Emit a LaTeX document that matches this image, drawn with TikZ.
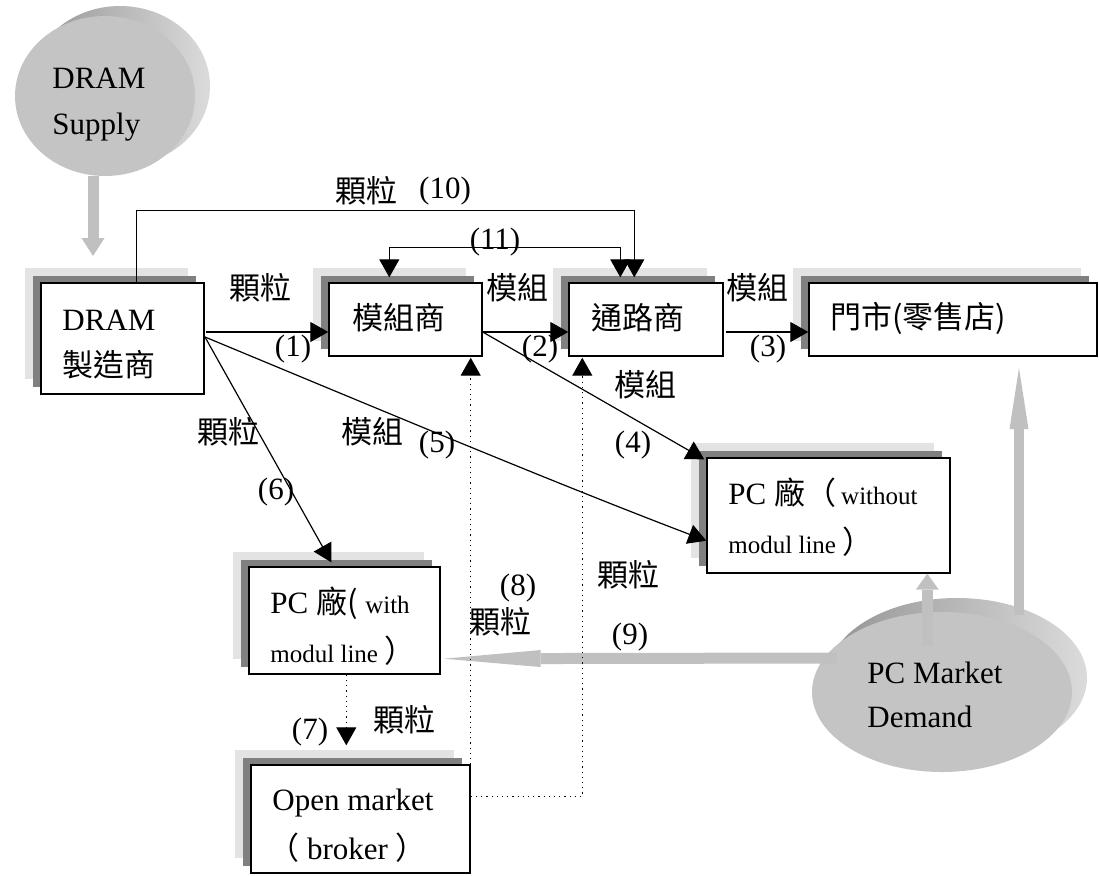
\documentclass[tikz,border=0pt]{standalone}
\usepackage{fontspec}
\setmainfont{Liberation Serif}
\newfontfamily\cjk{Noto Sans CJK TC}
\usetikzlibrary{arrows.meta,fit,calc,shapes.geometric}
\definecolor{shlight}{HTML}{E3E3E3}
\definecolor{shdark}{HTML}{808080}
\definecolor{garr}{HTML}{C0C0C0}
\definecolor{diskfront}{HTML}{C4C4C4}
\newcommand\fs{\fontsize{15.5}{18}\selectfont}
\newcommand\fsm{\fontsize{12.5}{15}\selectfont}
\newcommand\shadowedbox[5]{%
  \fill[shlight] (#2-16,#3-15) rectangle (#4-16,#5-15);
  \fill[shdark] (#2-8,#3-7) rectangle (#4-8,#5-7);
  \node[boxst, fit={(#2,#3) (#4,#5)}] (#1) {};
}
\tikzset{
  boxst/.style={draw=black, line width=0.7pt, fill=white, inner sep=0pt},
  txt/.style={font=\fs, inner sep=0pt, anchor=west},
  lab/.style={font=\fs, inner sep=0pt},
  barrow/.style={draw=black, line width=0.6pt, -{Triangle[length=9pt,width=10pt]}},
  dotarrow/.style={draw=black, line width=0.6pt, dotted, -{Triangle[length=9pt,width=10pt]}},
  garrow/.style={draw=garr, fill=garr},
  diskfr/.style={ellipse, fill=diskfront, inner sep=0pt},
}
\begin{document}
\begin{tikzpicture}[x=0.5pt,y=-0.5pt]
\useasboundingbox (0,0) rectangle (1099,875);

% ---- DRAM Supply disk ----
\shade[left color=black!42, right color=black!14] (120,86) ellipse [x radius=90, y radius=80];
\node[diskfr, minimum width=90pt, minimum height=80pt] (sup) at (105,96) {};
\node[txt] (supa) at (52,78) {DRAM};
\node[txt] (supb) at (52,127) {Supply};

% ---- PC Market Demand disk ----
\shade[left color=black!42, right color=black!14] (957,678) ellipse [x radius=130, y radius=80];
\node[diskfr, minimum width=130pt, minimum height=80pt] (pcm) at (942,692) {};
\node[txt] (pcma) at (867,673) {PC Market};
\node[txt] (pcmb) at (867,717) {Demand};

% ---- boxes ----
\shadowedbox{dram}{41}{283}{204}{394}
\shadowedbox{mod}{329}{283}{482}{356}
\shadowedbox{chan}{569}{283}{723}{356}
\shadowedbox{store}{809}{283}{1097}{356}
\shadowedbox{pcwo}{707}{458}{950}{573}
\shadowedbox{pcw}{249}{567}{440}{674}
\shadowedbox{open}{251}{765}{470}{873}

\node[txt] (dramt1) at (62,320) {DRAM};
\node[txt] (dramt2) at (62,365) {\cjk 製造商};
\node[txt] (modt) at (352,318) {\cjk 模組商};
\node[txt] (chant) at (591,318) {\cjk 通路商};
\node[txt] (storet) at (830,318) {\cjk 門市(零售店)};
\node[txt] (pcwot1) at (728,493) {PC {\cjk 廠（}\,{\fsm without}};
\node[txt] (pcwot2) at (728,542) {{\fsm modul line }{\cjk ）}};
\node[txt] (pcwt1) at (270,603) {PC {\cjk 廠(}\ {\fsm with}};
\node[txt] (pcwt2) at (270,651) {{\fsm modul line }{\cjk ）}};
\node[txt] (opent1) at (272,803) {Open market};
\node[txt] (opent2) at (268,848) {{\cjk （}\ broker\ {\cjk ）}};

% ---- gray arrows ----
\coordinate (tsup) at (93,256);
\draw[garrow, line width=5.5pt, -{Triangle[length=9pt,width=11.5pt,line width=0pt 0]}] (sup.south -| tsup) -- (tsup);
\coordinate (tstore) at (1019,368);
\draw[garrow, line width=5pt, -{Triangle[length=30.5pt,width=9.5pt,line width=0pt 0]}] (tstore |- 0,615) -- (tstore);
\draw[garrow, line width=5.5pt, -{Triangle[length=8pt,width=11.5pt,line width=0pt 0]}] ($(pcwo.south west)+(221,72)$) -- ($(pcwo.south west)+(221,0)$);
\draw[garrow, line width=5.5pt, -{Triangle[length=48.5pt,width=8.5pt,line width=0pt 0]}] ($(pcm.west)+(25,-34)$) -- ($(pcw.south east)+(3,-16)$);

% ---- black arrows ----
\coordinate (d1) at (206,332);
\coordinate (d5) at (205,337);
\draw[barrow] (d1) -- (d1 -| mod.west);
\draw[barrow] (mod.east |- d1) -- (chan.west |- d1);
\draw[barrow] ($(chan.east |- d1)+(2,0)$) -- (store.west |- d1);
\draw[barrow] (mod.east |- d1) -- ($(pcwo.north west)+(-2,2)$);
\draw[barrow] (d5) .. controls (400,418) and (560,485) .. ($(pcwo.south west)+(0,-33)$);
\draw[barrow] (d5) -- ($(pcw.north west)+(83,-4)$);
\draw[barrow] ($(dram.north west)+(96,0)$) |- ($(chan.north west)+(66,-72)$) -- ($(chan.north west)+(66,-5)$);
\draw[draw=black, line width=0.6pt, {Triangle[length=9pt,width=10pt]}-{Triangle[length=9pt,width=10pt]}]
  ($(mod.north west)+(61,-5)$) |- ($(chan.north west)+(52,-35)$) -- ($(chan.north west)+(52,-5)$);

% ---- dotted arrows ----
\draw[dotarrow] ($(pcw.south west)+(98,0)$) -- ($(open.north west)+(96,-19)$);
\draw[dotarrow] (open.north east) -- ($(open.north east |- mod.south)+(0,1)$);
\draw[dotarrow] ($(open.north east)+(0,32)$) -| ($(chan.south west)+(14,1)$);

% ---- labels ----
\node[lab] (l1a) at (260,288) {\cjk 顆粒};
\node[lab] (l1b) at (293,349) {(1)};
\node[lab] (l2a) at (517,288) {\cjk 模組};
\node[lab] (l2b) at (540,349) {(2)};
\node[lab] (l3a) at (757,288) {\cjk 模組};
\node[lab] (l3b) at (768,349) {(3)};
\node[lab] (l4a) at (645,385) {\cjk 模組};
\node[lab] (l4b) at (633,445) {(4)};
\node[lab] (l5a) at (372,432) {\cjk 模組};
\node[lab] (l5b) at (437,445) {(5)};
\node[lab] (l6a) at (228,432) {\cjk 顆粒};
\node[lab] (l6b) at (276,492) {(6)};
\node[lab] (l7b) at (310,732) {(7)};
\node[lab] (l7a) at (404,720) {\cjk 顆粒};
\node[lab] (l8b) at (518,588) {(8)};
\node[lab] (l8a) at (500,622) {\cjk 顆粒};
\node[lab] (l8c) at (628,575) {\cjk 顆粒};
\node[lab] (l9) at (630,637) {(9)};
\node[lab] (l10a) at (366,191) {\cjk 顆粒};
\node[lab] (l10b) at (445,191) {(10)};
\node[lab] (l11) at (495,242) {(11)};
\end{tikzpicture}
\end{document}
